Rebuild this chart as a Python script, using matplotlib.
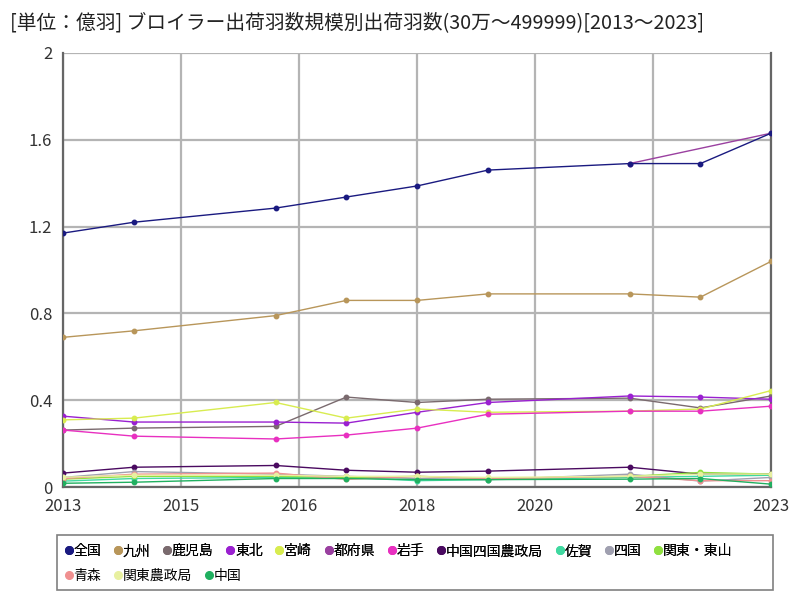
# -*- coding: utf-8 -*-

import matplotlib
matplotlib.use("Agg")
import matplotlib.pyplot as plt
from matplotlib.lines import Line2D
from matplotlib.patches import Rectangle

plt.rcParams['font.family'] = ['Noto Sans CJK JP', 'DejaVu Sans']

# データ (単位: 億羽)
years = [2013, 2014, 2016, 2017, 2018, 2019, 2021, 2022, 2023]

zenkoku = [1.17, 1.22, 1.285, 1.336, 1.387, 1.46, 1.49, 1.49, 1.63]
kyushu = [0.69, 0.72, 0.79, 0.86, 0.86, 0.89, 0.89, 0.875, 1.04]
kagoshima = [0.263, 0.272, 0.28, 0.415, 0.39, 0.405, 0.41, 0.365, 0.42]
tohoku = [0.327, 0.30, 0.30, 0.295, 0.345, 0.39, 0.42, 0.415, 0.405]
miyazaki = [0.31, 0.318, 0.39, 0.318, 0.36, 0.345, 0.35, 0.36, 0.445]
tofuken = [None, None, None, None, None, None, 1.49, None, 1.63]
iwate = [0.263, 0.235, 0.222, 0.24, 0.272, 0.336, 0.35, 0.35, 0.373]
chushikoku_nousei = [0.065, 0.092, 0.10, 0.078, 0.069, 0.074, 0.092, 0.06, 0.06]
saga = [0.028, 0.04, 0.045, 0.045, 0.03, 0.035, 0.045, 0.05, 0.055]
shikoku = [0.045, 0.072, 0.06, 0.05, 0.04, 0.035, 0.06, 0.028, 0.045]
kanto_tosan = [0.037, 0.05, 0.05, 0.045, 0.05, 0.04, 0.05, 0.068, 0.06]
aomori = [0.04, 0.06, 0.065, 0.036, 0.05, 0.04, 0.05, 0.03, 0.03]
kanto_nousei = [0.046, 0.055, 0.055, 0.05, 0.05, 0.045, 0.05, 0.06, 0.06]
chugoku = [0.018, 0.023, 0.04, 0.04, 0.035, 0.035, 0.037, 0.04, 0.014]

series = [
    ("全国", zenkoku, "#1a1a80"),
    ("九州", kyushu, "#b8965a"),
    ("鹿児島", kagoshima, "#7a6a6e"),
    ("東北", tohoku, "#9a20d0"),
    ("宮崎", miyazaki, "#d8ec50"),
    ("都府県", tofuken, "#9a40a0"),
    ("岩手", iwate, "#e830c0"),
    ("中国四国農政局", chushikoku_nousei, "#4a0a60"),
    ("佐賀", saga, "#40d8a0"),
    ("四国", shikoku, "#a0a0b0"),
    ("関東・東山", kanto_tosan, "#90e040"),
    ("青森", aomori, "#f09090"),
    ("関東農政局", kanto_nousei, "#e8f0a0"),
    ("中国", chugoku, "#20b060"),
]

fig = plt.figure(figsize=(8, 6), dpi=100)
ax = fig.add_axes([0.079, 0.188, 0.885, 0.724])

# 折れ線 (欠損値は飛ばしてつなぐ)
for i, (name, vals, color) in enumerate(series):
    xs = [x for x, v in zip(years, vals) if v is not None]
    ys = [v for v in vals if v is not None]
    z = 3 if name != "都府県" else 2.5
    ax.plot(xs, ys, color=color, lw=1.0, marker='o', ms=3.2, zorder=z + i * 0.01)

ax.set_xlim(2013, 2023)
ax.set_ylim(0, 2)

xt = [2013 + i * 10 / 6 for i in range(7)]
ax.set_xticks(xt)
ax.set_xticklabels([f"{v:.0f}" for v in xt])
yt = [0, 0.4, 0.8, 1.2, 1.6, 2.0]
ax.set_yticks(yt)
ax.set_yticklabels(["0", "0.4", "0.8", "1.2", "1.6", "2"])
ax.tick_params(length=0, labelsize=12, colors="#333333", pad=8)

ax.grid(True, color="#b4b4b4", lw=1.6)
ax.set_axisbelow(True)
for s in ["left", "bottom", "right"]:
    ax.spines[s].set_color("#666666")
    ax.spines[s].set_linewidth(1.6)
ax.spines["top"].set_visible(False)

fig.text(0.012, 0.963, "[単位：億羽] ブロイラー出荷羽数規模別出荷羽数(30万～499999)[2013～2023]",
         fontsize=14.2, color="#222222", va="center", ha="left")

# 凡例 (2段)
handles = [Line2D([], [], ls='none', marker='o', ms=5.5, color=c) for _, _, c in series]
labels = [n for n, _, _ in series]
opts = dict(frameon=False, fontsize=10, handletextpad=-0.15, columnspacing=0.7,
            handlelength=1.0, borderaxespad=0, loc="upper left")
leg1 = fig.legend(handles[:11], labels[:11], ncol=11, bbox_to_anchor=(0.07, 0.102), **opts)
fig.legend(handles[11:], labels[11:], ncol=3, bbox_to_anchor=(0.07, 0.061), **opts)
fig.add_artist(leg1)
fig.patches.append(Rectangle((0.071, 0.017), 0.895, 0.092, transform=fig.transFigure,
                             fill=False, edgecolor="#808080", lw=1.2))

plt.savefig("out.png", dpi=100)
